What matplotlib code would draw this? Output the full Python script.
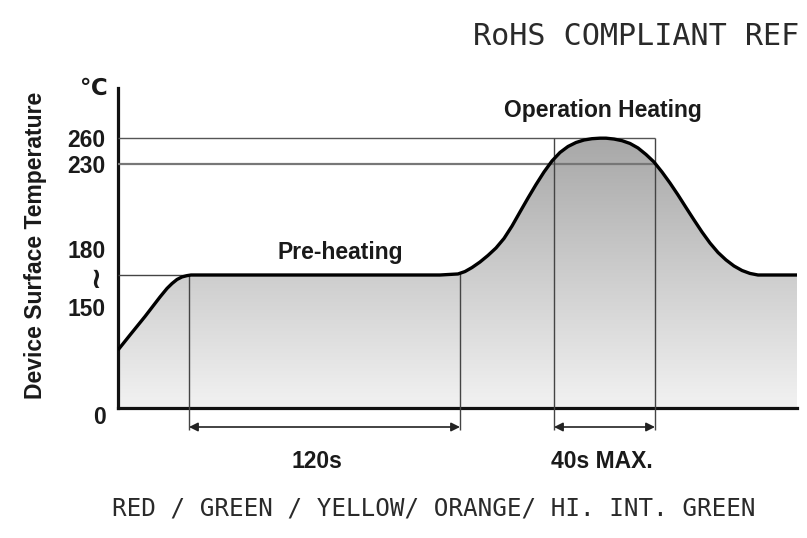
import numpy as np
import matplotlib
matplotlib.use("Agg")
import matplotlib.pyplot as plt
from matplotlib.transforms import ScaledTranslation

# ---------------- data ----------------
# schematic time positions (arbitrary units along the time axis)
profile_time = [0, 12, 27, 42, 49, 54, 59, 64, 69, 73, 322, 340, 347, 354, 362,
                370, 378, 386, 394, 402, 410, 418, 426, 434, 442, 450, 458, 466,
                474, 482, 488, 496, 504, 512, 520, 528, 536, 544, 552, 560, 568,
                576, 584, 592, 600, 608, 616, 624, 632, 640, 679]
# device surface temperature (deg C)
profile_temp = [86.1, 108.4, 135.9, 154.7, 158.7, 161.0, 162.9, 164.1, 164.7, 165,
                165, 165.6, 167.0, 169.3, 172.5, 176.3, 180.6, 186.2, 193.5, 201.8,
                210.0, 217.9, 225.3, 233.5, 243.3, 250.2, 254.8, 257.7, 259.2, 259.8,
                259.8, 258.8, 256.9, 253.7, 248.5, 241.0, 232.3, 225.3, 218.8, 211.8,
                204.4, 197.1, 190.0, 183.5, 178.0, 173.7, 170.2, 167.6, 165.9, 165,
                165]
preheat_start, preheat_end = 71, 342
peak_start, peak_end = 436, 537
preheat_level = 165
peak_temp, reflow_temp = 260, 230
tick_temps = [0, 150, 165, 180, 230, 260]
tick_labels = ['0', '150', '≀', '180', '230', '260']

# schematic (non-linear) temperature axis of the drawing
scale_temps = [-150, 0, 150, 165, 180, 230, 260, 320]
scale_heights = [-101, 0, 101, 133, 159, 244, 270, 322]

W, H = 807, 538
fx = lambda px: px / W
fy = lambda py: 1 - py / H

fig = plt.figure(figsize=(W / 100, H / 100), dpi=100)
fig.patch.set_facecolor('white')
ax = fig.add_axes([fx(118), fy(408), 679 / W, 320 / H])

fwd = lambda t: np.interp(t, scale_temps, scale_heights)
inv = lambda h: np.interp(h, scale_heights, scale_temps)
ax.set_yscale('function', functions=(fwd, inv))
t_top = float(inv(320))

# gradient fill under the curve
fill = ax.fill_between(profile_time, 0, profile_temp, facecolor='none', edgecolor='none')
f = np.linspace(0, 1, 256).reshape(-1, 1)
g = (242 - 88 * f) / 255.0
rgb = np.dstack([g, g, g])
im = ax.imshow(rgb, extent=(0, 1, 0, 1), transform=ax.transAxes, origin='lower',
               aspect='auto', interpolation='bilinear', zorder=1)
im.set_clip_path(fill.get_paths()[0], transform=ax.transData)
ax.set_xlim(0, 679)
ax.set_ylim(0, t_top)

below = float(inv(-22))
arrow_y = float(inv(-19))

# reference lines
ax.hlines(peak_temp, 0, peak_end, color='#555555', lw=1.0, zorder=3)
ax.hlines(reflow_temp, 0, peak_end, color='#777777', lw=1.6, zorder=3)
ax.hlines(preheat_level, 0, preheat_start, color='#444444', lw=1.0, zorder=3)
ax.vlines([preheat_start], below, preheat_level, color='#444444', lw=1.0,
          clip_on=False, zorder=3)
ax.vlines([preheat_end], below, 166, color='#444444', lw=1.0, clip_on=False, zorder=3)
ax.vlines([peak_start, peak_end], below, peak_temp, color='#444444', lw=1.0,
          clip_on=False, zorder=3)

# profile curve
ax.plot(profile_time, profile_temp, color='black', lw=2.4, solid_joinstyle='round',
        solid_capstyle='butt', zorder=4)

# dimension arrows
for a, b in [(preheat_start, preheat_end), (peak_start, peak_end)]:
    ax.annotate('', xy=(b, arrow_y), xytext=(a, arrow_y), annotation_clip=False,
                arrowprops=dict(arrowstyle='<|-|>', color='#222222', lw=1.2,
                                shrinkA=0, shrinkB=0, mutation_scale=13))

# axes styling
for s in ['top', 'right']:
    ax.spines[s].set_visible(False)
for s in ['left', 'bottom']:
    ax.spines[s].set_linewidth(2.3)
    ax.spines[s].set_color('#111111')
ax.set_xticks([])
ax.set_yticks(tick_temps)
ax.set_yticklabels(tick_labels)
ax.tick_params(axis='y', length=0, pad=9, labelsize=16.5, labelcolor='#1a1a1a')
for lab in ax.get_yticklabels():
    lab.set_fontfamily(['Liberation Sans', 'DejaVu Sans'])
    lab.set_fontweight('bold')
ylabs = ax.get_yticklabels()
ylabs[0].set_transform(ylabs[0].get_transform() + ScaledTranslation(0, -7 / 100, fig.dpi_scale_trans))
ylabs[2].set_fontfamily('DejaVu Sans')
ylabs[2].set_fontweight('bold')
ylabs[2].set_fontsize(21)
ylabs[2].set_transform(ylabs[2].get_transform() + ScaledTranslation(-4 / 100, -2 / 100, fig.dpi_scale_trans))

lab_font = dict(family=['Liberation Sans', 'DejaVu Sans'], fontweight='bold',
                color='#1a1a1a', fontsize=16.5)
fig.text(fx(93), fy(88), '℃', ha='center', va='center', **lab_font)
fig.text(fx(603), fy(110), 'Operation Heating', ha='center', va='center', **lab_font)
fig.text(fx(340), fy(253), 'Pre-heating', ha='center', va='center', **lab_font)
fig.text(fx(317), fy(461), '120s', ha='center', va='center', **lab_font)
fig.text(fx(602), fy(462), '40s MAX.', ha='center', va='center', **lab_font)
fig.text(fx(36), fy(245), 'Device Surface Temperature', rotation=90, ha='center',
         va='center', **lab_font)

mono = dict(family='DejaVu Sans Mono', color='#2a2a2a')
fig.text(fx(473), fy(45), 'RoHS COMPLIANT REF', ha='left', va='baseline',
         fontsize=21.7, **mono)
fig.text(fx(112), fy(515), 'RED / GREEN / YELLOW/ ORANGE/ HI. INT. GREEN', ha='left',
         va='baseline', fontsize=17.5, **mono)

fig.savefig('out.png', dpi=100)
